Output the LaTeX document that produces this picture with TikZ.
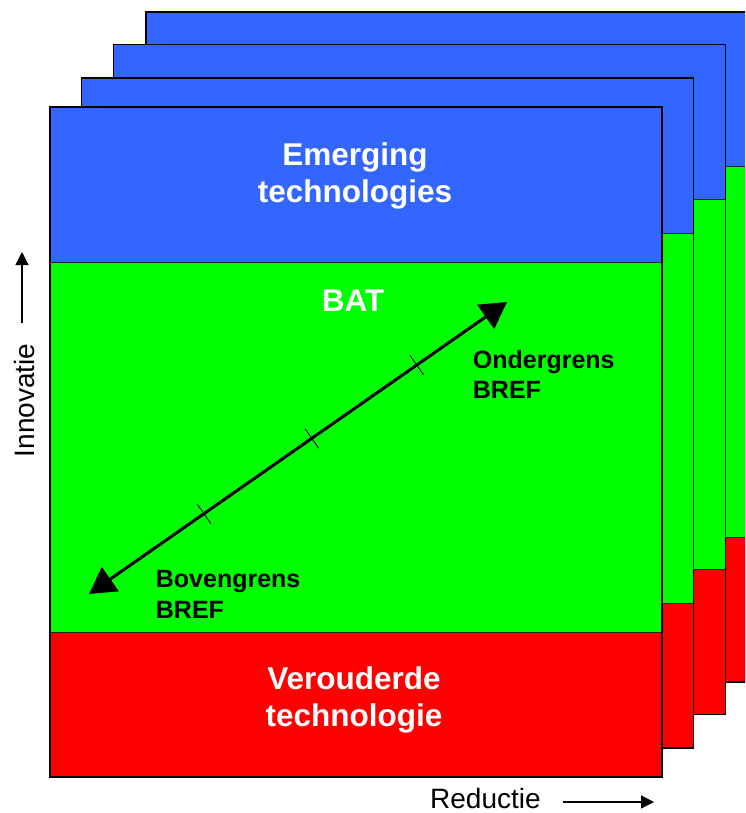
\documentclass[tikz,border=0pt]{standalone}
\usepackage{fontspec}
\setmainfont{Liberation Sans}
\usetikzlibrary{arrows.meta,calc}
\definecolor{cblue}{HTML}{3366FF}
\definecolor{cgreen}{HTML}{00FF00}
\definecolor{cred}{HTML}{FF0000}
\begin{document}
\begin{tikzpicture}[x=1pt,y=-1pt,
  bigtxt/.style={text=white,font=\fontsize{31.5}{36.5}\selectfont\bfseries,align=center,inner sep=0pt},
  smalltxt/.style={text=black,font=\fontsize{25}{30.5}\selectfont\bfseries,align=left,inner sep=0pt},
  axistxt/.style={text=black,font=\fontsize{28}{32}\selectfont,inner sep=0pt},
  divline/.style={line width=1pt,draw=black!85},
  cardframe/.style={line width=1.6pt,draw=black},
  mainarrow/.style={line width=3pt,{Triangle[length=26pt,width=29pt]}-{Triangle[length=26pt,width=29pt]}},
  tickmark/.style={line width=0.9pt},
  axisarrow/.style={line width=1.2pt,-{Triangle[length=13pt,width=13pt]}}]
\useasboundingbox (0,0) rectangle (745,813);
\begin{scope}
\clip (0,0) rectangle (745,813);
\foreach \cx/\cy in {146/12, 113.5/44.5, 81.5/78, 50/107}{
  \fill[cblue] (\cx,\cy) rectangle ++(612,155);
  \fill[cgreen] (\cx,\cy+155) rectangle ++(612,370);
  \fill[cred] (\cx,\cy+525) rectangle ++(612,145);
  \draw[divline] (\cx,\cy+155) -- ++(612,0);
  \draw[divline] (\cx,\cy+525) -- ++(612,0);
  \draw[cardframe] (\cx,\cy) rectangle ++(612,670);
}
\end{scope}
% labels
\node[bigtxt,anchor=north] (emerg) at (355,142.5) {Emerging\\technologies};
\node[bigtxt,anchor=north] (bat) at (353,290) {BAT};
\node[bigtxt,anchor=north] (verou) at (354,666.5) {Verouderde\\technologie};
\node[smalltxt,anchor=north west] (onder) at (472.7,350) {Ondergrens\\BREF};
\node[smalltxt,anchor=north west] (boven) at (155.7,570.4) {Bovengrens\\BREF};
% main double arrow
\coordinate (lo) at (89,594);
\coordinate (hi) at (507,302);
\draw[mainarrow] (lo) -- (hi);
\foreach \t in {0.275,0.533,0.784}{
  \coordinate (tk) at ($(lo)!\t!(hi)$);
  \draw[tickmark] ($(tk)!12pt!90:(hi)$) -- ($(tk)!12pt!-90:(hi)$);
}
% axes
\node[axistxt,rotate=90] (innov) at (24,400.5) {Innovatie};
\coordinate (iv0) at (22,323);
\coordinate (iv1) at (22,252);
\draw[axisarrow] (iv0) -- (iv1);
\node[axistxt,anchor=north west] (reduc) at (430,788) {Reductie};
\coordinate (rd0) at (563,802);
\coordinate (rd1) at (654,802);
\draw[axisarrow] (rd0) -- (rd1);
\end{tikzpicture}
\end{document}
